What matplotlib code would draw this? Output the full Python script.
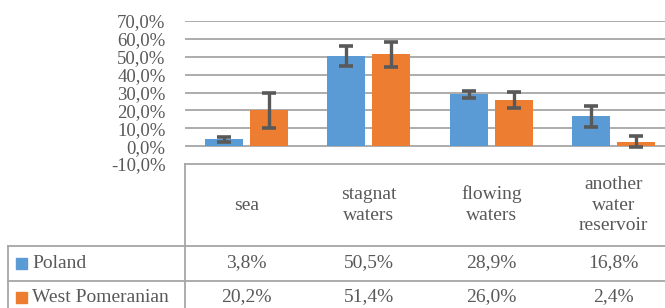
import matplotlib
matplotlib.use("Agg")
import matplotlib.pyplot as plt
import matplotlib.transforms as mtransforms
from matplotlib.lines import Line2D
import numpy as np

# data
categories = ["sea", "stagnat\nwaters", "flowing\nwaters", "another\nwater\nreservoir"]
series = ["Poland", "West Pomeranian"]
poland = [3.8, 50.5, 28.9, 16.8]
west_pomeranian = [20.2, 51.4, 26.0, 2.4]
poland_err = [1.4, 5.7, 2.0, 5.9]
west_pomeranian_err = [9.8, 7.0, 4.5, 3.0]
y_ticks = [-10, 0, 10, 20, 30, 40, 50, 60, 70]

colors = ["#5B9BD5", "#ED7D31"]
text_color = "#595959"
line_color = "#A6A6A6"

plt.rcParams["font.family"] = ["Liberation Serif", "DejaVu Serif"]

W, H = 665, 308
fig = plt.figure(figsize=(W / 100, H / 100), dpi=100)

# overlay in pixel coords for the data table lines
over = fig.add_axes([0, 0, 1, 1])
over.set_xlim(0, W)
over.set_ylim(H, 0)
over.axis("off")

# plot area: x from 185 px, 4 columns of ~122.5 px, y from 21 to 164 px
ax = fig.add_axes([185 / W, (H - 164) / H, 490 / W, 143 / H])
x = np.arange(len(categories))
bw = 0.31
off = 0.185
err_kw = dict(ecolor="#595959", elinewidth=2.4, capsize=5, capthick=2.6)
ax.bar(x - off, poland, bw, color=colors[0], yerr=poland_err, error_kw=err_kw, zorder=3)
ax.bar(x + off, west_pomeranian, bw, color=colors[1], yerr=west_pomeranian_err,
       error_kw=err_kw, zorder=3)

ax.set_xlim(-0.5, len(categories) - 0.5)
ax.set_ylim(-10, 70)
ax.set_yticks(y_ticks)
ax.set_yticklabels([f"{v:.1f}%".replace(".", ",") for v in y_ticks])
ax.tick_params(axis="y", length=0, pad=14, labelsize=13.5, labelcolor=text_color)
ax.set_xticks([])
for s in ax.spines.values():
    s.set_visible(False)
for v in y_ticks[1:]:
    ax.axhline(v, color=line_color, lw=1.3, zorder=1)
ax.patch.set_alpha(0)

# data table below the plot
def hline(y, x0, x1):
    over.add_line(Line2D([x0, x1], [y, y], color=line_color, lw=1.3))

def vline(xp, y0, y1):
    over.add_line(Line2D([xp, xp], [y0, y1], color=line_color, lw=1.3))

hline(164, 185, W)
hline(245.5, 8, W)
hline(280.5, 8, W)
vline(185, 164, H)
vline(8, 245.5, H)

fs = 14
tr = mtransforms.blended_transform_factory(ax.transData, over.transData)
for i, cat in enumerate(categories):
    over.text(i, 205, cat, transform=tr, ha="center", va="center", fontsize=fs,
              color=text_color, linespacing=1.3)
    over.text(i, 263, f"{poland[i]:.1f}%".replace(".", ","), transform=tr,
              ha="center", va="center", fontsize=fs, color=text_color)
    over.text(i, 297, f"{west_pomeranian[i]:.1f}%".replace(".", ","), transform=tr,
              ha="center", va="center", fontsize=fs, color=text_color)

for row_y, name, c in zip([263, 297], series, colors):
    over.add_patch(plt.Rectangle((16, row_y - 5.5), 11, 11, color=c))
    over.text(32, row_y, name, ha="left", va="center", fontsize=fs, color=text_color)

fig.savefig("out.png", dpi=100)
